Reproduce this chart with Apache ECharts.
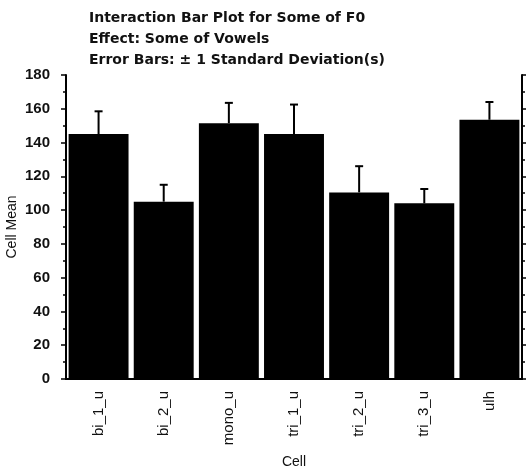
<!DOCTYPE html>
<html><head><meta charset="utf-8">
<script src="https://cdn.jsdelivr.net/npm/echarts@6/dist/echarts.min.js"></script>
<style>html,body{margin:0;padding:0;background:#fff}#c{width:528px;height:472px}</style>
</head><body><div id="c"></div>
<script>
const categories = ['bi_1_u','bi_2_u','mono_u','tri_1_u','tri_2_u','tri_3_u','ulh'];
const means = [145, 105, 151.5, 145, 110.5, 104, 153.5];
const sds = [13.5, 10, 12, 17.5, 15.5, 8.5, 10.5];
const titleLines = ['Interaction Bar Plot for Some of F0','Effect: Some of Vowels','Error Bars: \u00b1 1 Standard Deviation(s)'];

const chart = echarts.init(document.getElementById('c'));
const font = 'Liberation Sans, Arial, sans-serif';
const tfont = 'DejaVu Sans, sans-serif';
const errData = categories.map((c,i)=>[i, means[i], means[i]+sds[i]]);
chart.setOption({
  animation:false,
  backgroundColor:'#fff',
  title: titleLines.map((t,i)=>({text:t,left:84,top:6+i*21,textStyle:{fontSize:14,fontWeight:'bold',color:'#111',fontFamily:tfont}})),
  grid:{left:66,right:6,top:75,bottom:93,containLabel:false,outerBoundsMode:'none'},
  xAxis:[{
    type:'category',data:categories,position:'bottom',
    name:'Cell',nameLocation:'middle',nameGap:76,
    nameTextStyle:{fontSize:14,color:'#111',fontFamily:font},
    axisLine:{lineStyle:{color:'#000',width:2}},
    axisTick:{alignWithLabel:true,length:4,lineStyle:{color:'#000',width:1.5}},
    axisLabel:{rotate:90,fontSize:15,color:'#111',fontFamily:font,margin:12}
  },{
    type:'category',data:categories,position:'top',
    axisLine:{lineStyle:{color:'#000',width:2}},
    axisTick:{alignWithLabel:true,length:3,inside:false,lineStyle:{color:'#000',width:1.5}},
    axisLabel:{show:false}
  }],
  yAxis:[{
    type:'value',min:0,max:180,interval:20,position:'left',
    name:'Cell Mean',nameLocation:'middle',nameGap:47,nameMoveOverlap:false,
    nameTextStyle:{fontSize:14,color:'#111',fontFamily:font},
    axisLine:{show:true,lineStyle:{color:'#000',width:2}},
    axisTick:{show:true,length:5,lineStyle:{color:'#000',width:1.5}},
    minorTick:{show:true,splitNumber:2,length:3,lineStyle:{color:'#000',width:1.5}},
    splitLine:{show:false},
    axisLabel:{fontSize:15,fontWeight:'bold',color:'#111',fontFamily:font,margin:16}
  },{
    type:'value',min:0,max:180,interval:20,position:'right',
    axisLine:{show:true,lineStyle:{color:'#000',width:2}},
    axisTick:{show:true,length:4,lineStyle:{color:'#000',width:1.5}},
    minorTick:{show:true,splitNumber:2,length:3,lineStyle:{color:'#000',width:1.5}},
    splitLine:{show:false},
    axisLabel:{show:false}
  }],
  series:[{
    type:'bar',data:means,barCategoryGap:'8%',
    itemStyle:{color:'#000'}
  },{
    type:'custom',data:errData,z:5,
    renderItem:function(params,api){
      const x=api.value(0);
      const top=api.coord([x,api.value(2)]);
      const base=api.coord([x,api.value(1)]);
      const w=4;
      return {type:'group',children:[
        {type:'line',shape:{x1:top[0],y1:base[1],x2:top[0],y2:top[1]},style:{stroke:'#000',lineWidth:2}},
        {type:'line',shape:{x1:top[0]-w,y1:top[1],x2:top[0]+w,y2:top[1]},style:{stroke:'#000',lineWidth:2}}
      ]};
    }
  }]
});
</script></body></html>
